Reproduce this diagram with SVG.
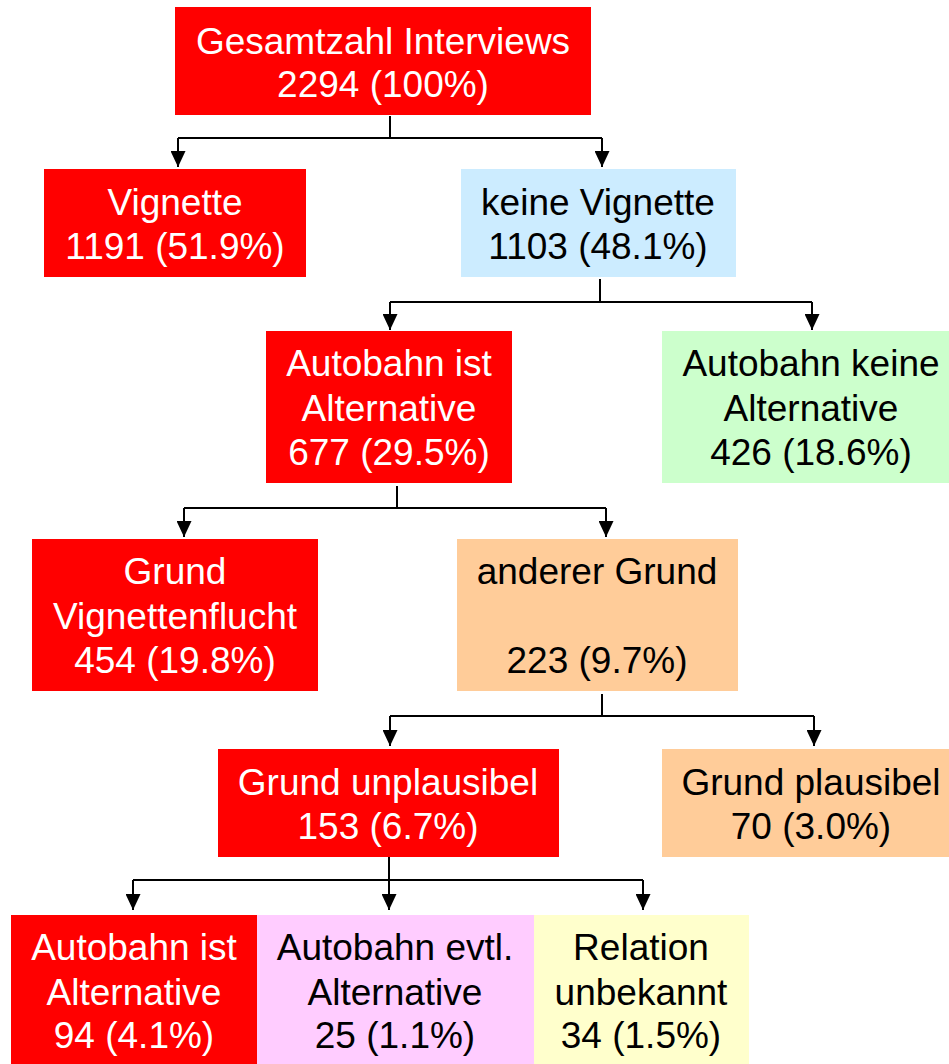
<svg xmlns="http://www.w3.org/2000/svg" width="949" height="1064" viewBox="0 0 949 1064">
<style>
text{font-family:"Liberation Sans",Arial,sans-serif;font-size:37px;text-anchor:middle}
.w{fill:#ffffff}
.k{fill:#000000}
.red{fill:#ff0000}
.blue{fill:#ccecff}
.green{fill:#ccffcc}
.orange{fill:#ffcc99}
.pink{fill:#ffccff}
.yellow{fill:#ffffcc}
.c{fill:none;stroke:#000;stroke-width:2}
</style>
<defs>
<marker id="ah" markerUnits="userSpaceOnUse" markerWidth="16" markerHeight="15" refX="16" refY="7.5" orient="auto">
<path d="M0,0 L16,7.5 L0,15 z" fill="#000"/>
</marker>
</defs>
<rect width="949" height="1064" fill="#fff"/>
<g id="connectors">
<path class="c" d="M390,116 V138 M178,138 H602"/>
<path class="c" d="M178,138 V167" marker-end="url(#ah)"/>
<path class="c" d="M602,138 V167" marker-end="url(#ah)"/>
<path class="c" d="M600,279 V302 M390,302 H812"/>
<path class="c" d="M390,302 V330" marker-end="url(#ah)"/>
<path class="c" d="M812,302 V330" marker-end="url(#ah)"/>
<path class="c" d="M397,486 V508 M184,508 H606"/>
<path class="c" d="M184,508 V537" marker-end="url(#ah)"/>
<path class="c" d="M606,508 V537" marker-end="url(#ah)"/>
<path class="c" d="M602,694 V716 M390,716 H814"/>
<path class="c" d="M390,716 V746" marker-end="url(#ah)"/>
<path class="c" d="M814,716 V746" marker-end="url(#ah)"/>
<path class="c" d="M389,857 V880 M133,880 H643"/>
<path class="c" d="M133,880 V910" marker-end="url(#ah)"/>
<path class="c" d="M389,880 V910" marker-end="url(#ah)"/>
<path class="c" d="M643,880 V910" marker-end="url(#ah)"/>
</g>
<g id="n-total">
<rect class="red" x="175" y="7" width="416" height="108"/>
<text class="w" x="383" y="54">Gesamtzahl Interviews</text>
<text class="w" x="383" y="97">2294 (100%)</text>
</g>
<g id="n-vignette">
<rect class="red" x="44" y="169" width="262" height="108"/>
<text class="w" x="175" y="215">Vignette</text>
<text class="w" x="175" y="259">1191 (51.9%)</text>
</g>
<g id="n-keine-vignette">
<rect class="blue" x="461" y="169" width="275" height="108"/>
<text class="k" x="598" y="215">keine Vignette</text>
<text class="k" x="598" y="259">1103 (48.1%)</text>
</g>
<g id="n-autobahn-alt">
<rect class="red" x="266" y="331" width="246" height="152"/>
<text class="w" x="389" y="376">Autobahn ist</text>
<text class="w" x="389" y="421">Alternative</text>
<text class="w" x="389" y="465">677 (29.5%)</text>
</g>
<g id="n-autobahn-keine">
<rect class="green" x="662" y="331" width="287" height="152"/>
<text class="k" x="811" y="376">Autobahn keine</text>
<text class="k" x="811" y="421">Alternative</text>
<text class="k" x="811" y="465">426 (18.6%)</text>
</g>
<g id="n-vignettenflucht">
<rect class="red" x="32" y="539" width="286" height="152"/>
<text class="w" x="175" y="584">Grund</text>
<text class="w" x="175" y="629">Vignettenflucht</text>
<text class="w" x="175" y="673">454 (19.8%)</text>
</g>
<g id="n-anderer-grund">
<rect class="orange" x="457" y="539" width="281" height="152"/>
<text class="k" x="597" y="584">anderer Grund</text>
<text class="k" x="597" y="673">223 (9.7%)</text>
</g>
<g id="n-unplausibel">
<rect class="red" x="218" y="749" width="341" height="108"/>
<text class="w" x="388" y="795">Grund unplausibel</text>
<text class="w" x="388" y="839">153 (6.7%)</text>
</g>
<g id="n-plausibel">
<rect class="orange" x="662" y="749" width="287" height="108"/>
<text class="k" x="811" y="795">Grund plausibel</text>
<text class="k" x="811" y="839">70 (3.0%)</text>
</g>
<g id="n-bottom-alt">
<rect class="red" x="11" y="915" width="246" height="149"/>
<text class="w" x="134" y="960">Autobahn ist</text>
<text class="w" x="134" y="1005">Alternative</text>
<text class="w" x="134" y="1048">94 (4.1%)</text>
</g>
<g id="n-bottom-evtl">
<rect class="pink" x="257" y="915" width="277" height="149"/>
<text class="k" x="395" y="960">Autobahn evtl.</text>
<text class="k" x="395" y="1005">Alternative</text>
<text class="k" x="395" y="1048">25 (1.1%)</text>
</g>
<g id="n-bottom-relation">
<rect class="yellow" x="534" y="915" width="215" height="149"/>
<text class="k" x="641" y="960">Relation</text>
<text class="k" x="641" y="1005">unbekannt</text>
<text class="k" x="641" y="1048">34 (1.5%)</text>
</g>
</svg>
